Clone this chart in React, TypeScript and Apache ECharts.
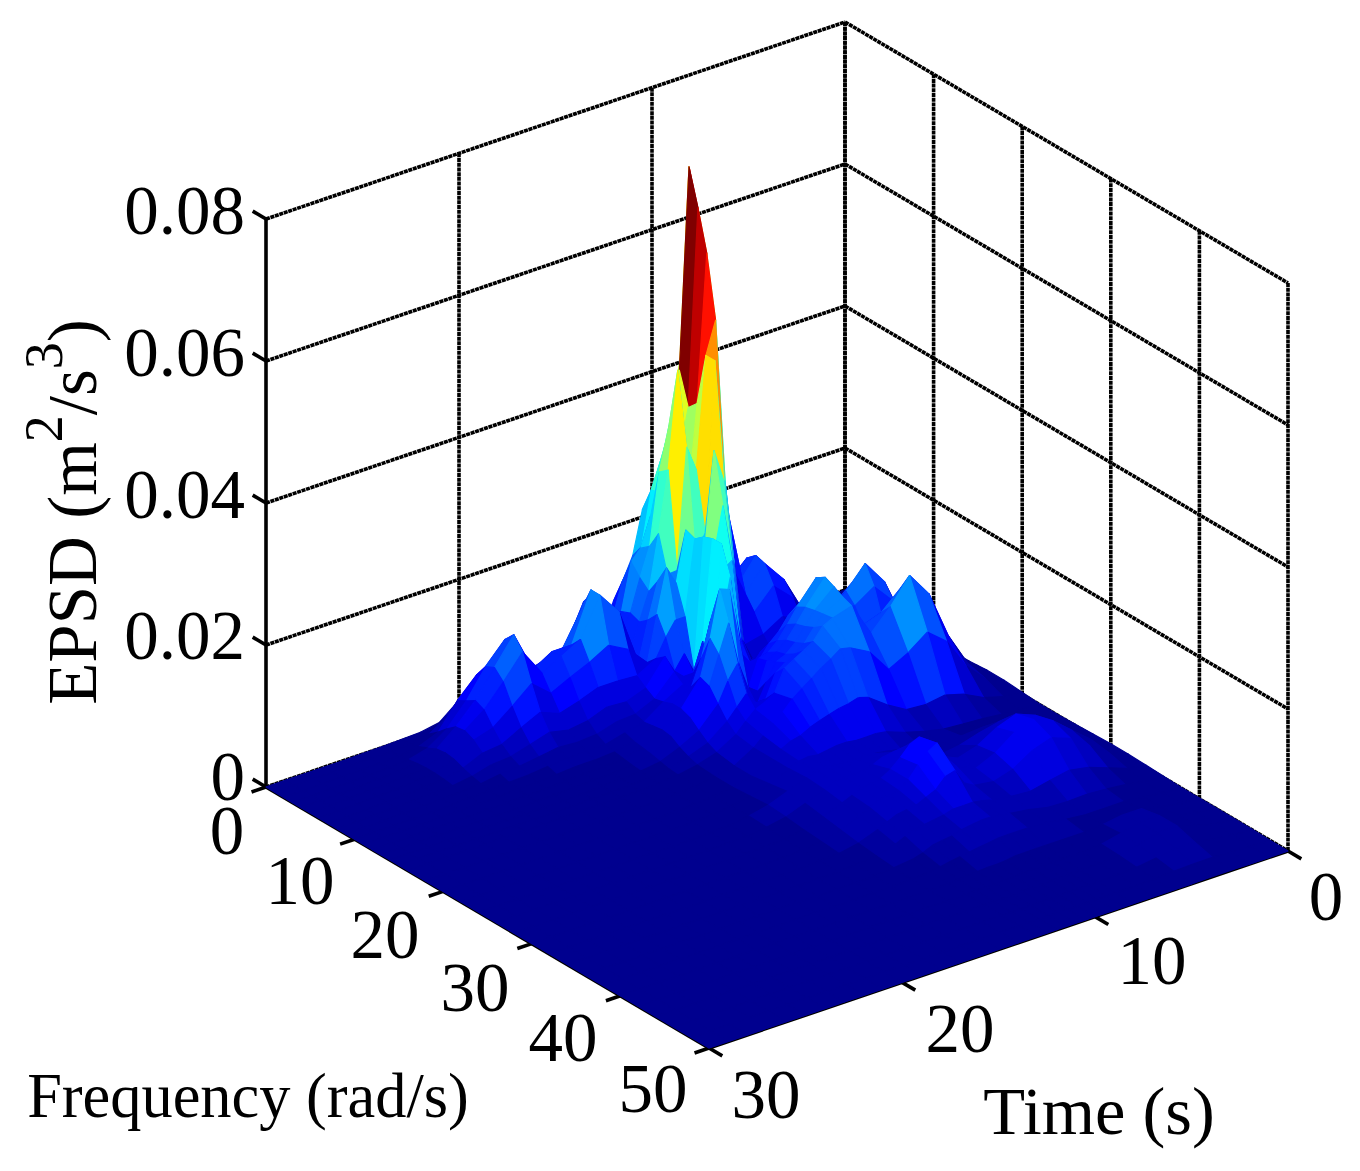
import React, { useEffect, useRef } from "react";
import * as echarts from "echarts";

const timeGrid = [0,1,2,3,4,5,6,7,8,8.5,9,9.5,10,10.5,11,11.5,12,12.5,13,14,15,16,17,18,19,20,21,22,23,24,25,26,27,28,29,30];
const freqGrid = [0,1,2,3,4,5,6,7,8,9,10,11,12,13,14,15,16,18,20,22,24,26,28,30,32,34,36,38,40,42,44,46,48,50];
// EPSD in units of 1e-4 m^2/s^3; one row per entry of timeGrid, one column per entry of freqGrid
const epsdRows = [
[0,0,0,0,0,0,0,0,1,2,3,4,4,3,3,4,5,5,3,1,1,2,3,4,4,3,2,1,1,1,1,1,0,0],
[0,0,0,0,0,1,1,2,4,7,12,16,14,10,13,20,24,17,6,2,4,9,15,19,15,8,4,3,3,4,3,2,1,0],
[0,0,1,1,1,2,3,6,12,26,45,56,48,32,38,60,72,44,14,5,10,22,36,41,34,18,9,6,7,10,10,6,2,0],
[2,3,4,5,5,5,6,11,25,55,98,120,100,66,75,118,140,88,28,8,16,35,57,64,54,28,12,9,14,19,19,11,4,1],
[18,28,36,39,37,30,20,16,32,72,128,155,130,88,98,150,175,110,36,10,19,42,68,75,64,33,14,9,14,18,18,11,4,1],
[42,65,82,92,90,72,48,30,35,62,105,125,112,88,92,125,140,90,32,12,17,36,58,66,55,28,13,9,10,12,11,7,3,0],
[60,92,115,126,122,98,62,38,42,58,78,100,122,132,122,115,112,76,34,18,16,28,42,46,38,22,14,12,8,6,5,3,1,0],
[55,72,85,90,88,70,46,30,38,62,100,140,170,178,172,165,160,110,50,26,18,24,34,34,30,24,20,16,8,4,3,2,1,0],
[300,340,350,330,225,135,40,28,34,56,88,118,138,145,148,150,152,125,70,36,22,26,46,46,34,28,24,18,8,4,3,1,0,0],
[400,560,620,510,376,265,160,58,30,48,76,100,118,126,130,136,145,128,74,38,26,36,62,62,42,32,26,18,8,4,2,1,0,0],
[320,414,694,644,587,500,282,176,72,50,68,88,100,108,112,118,128,118,70,38,32,50,82,88,64,34,28,18,8,3,2,1,0,0],
[270,327,412,367,380,455,455,294,189,84,52,70,88,96,100,108,120,110,68,38,34,50,76,80,60,34,28,18,8,3,2,1,0,0],
[233,283,330,300,240,298,217,340,270,200,95,72,84,88,94,100,112,100,64,40,36,48,62,66,46,34,26,16,6,3,1,0,0,0],
[210,245,250,350,436,335,190,200,200,190,170,90,48,50,70,90,104,90,60,40,34,42,50,50,40,30,24,14,5,2,1,0,0,0],
[150,170,220,290,300,166,230,225,235,240,240,200,120,60,42,58,74,80,55,38,34,38,42,40,34,28,20,12,5,2,1,0,0,0],
[120,155,180,190,215,165,160,120,50,100,60,130,195,100,62,58,66,66,48,36,36,38,40,38,32,26,18,10,4,1,0,0,0,0],
[95,130,165,150,138,160,186,120,80,60,90,150,200,160,110,75,60,55,45,38,38,38,38,36,30,24,16,8,3,1,0,0,0,0],
[65,85,100,105,100,110,125,100,60,60,60,100,135,120,90,60,48,42,38,36,38,36,32,30,24,18,10,5,2,1,0,0,0,0],
[60,80,90,75,60,55,62,75,85,70,60,65,85,80,62,45,34,30,30,30,32,30,26,22,18,12,6,3,1,0,0,0,0,0],
[60,120,140,140,138,135,90,60,50,42,45,50,50,45,34,24,18,14,14,18,22,20,16,12,8,5,3,1,0,0,0,0,0,0],
[50,62,75,135,168,168,105,62,40,30,26,28,30,28,20,14,10,8,8,10,12,10,7,5,3,2,0,0,0,0,0,0,0,0],
[42,40,75,88,100,115,90,62,42,28,20,16,14,12,9,6,5,4,4,5,6,5,3,2,1,1,0,0,0,0,0,0,0,0],
[30,42,56,60,100,100,78,52,32,20,13,10,8,6,5,3,2,2,2,2,2,2,1,1,0,0,0,0,0,0,0,0,0,0],
[40,58,70,80,84,86,65,44,28,18,12,8,6,4,3,2,1,1,1,1,1,1,1,0,0,0,0,0,0,0,0,0,0,0],
[48,72,94,128,142,125,88,55,34,20,12,8,5,3,2,1,1,1,0,0,0,0,0,0,0,0,0,0,0,0,0,0,0,0],
[30,50,80,99,105,92,65,42,26,16,10,6,4,2,1,1,1,1,0,0,0,0,0,0,0,0,0,0,0,0,0,0,0,0],
[8,25,53,60,68,62,44,28,18,12,7,4,2,1,0,0,0,0,0,0,0,0,0,0,0,0,0,0,0,0,0,0,0,0],
[3,8,18,30,40,42,36,25,16,10,6,4,2,1,0,0,0,0,0,0,0,0,0,0,0,0,0,0,0,0,0,0,0,0],
[2,3,7,12,18,20,18,13,9,6,4,2,1,0,0,0,0,0,0,0,0,0,0,0,0,0,0,0,0,0,0,0,0,0],
[1,1,3,5,7,8,8,7,5,4,3,2,1,0,0,0,0,0,0,0,0,0,0,0,0,0,0,0,0,0,0,0,0,0],
[1,1,2,3,5,6,6,5,4,3,2,1,0,0,0,0,0,0,0,0,0,0,0,0,0,0,0,0,0,0,0,0,0,0],
[0,1,1,2,3,4,4,3,3,2,1,1,0,0,0,0,0,0,0,0,0,0,0,0,0,0,0,0,0,0,0,0,0,0],
[0,0,1,1,2,3,3,2,2,1,1,0,0,0,0,0,0,0,0,0,0,0,0,0,0,0,0,0,0,0,0,0,0,0],
[0,0,0,1,1,2,2,1,1,0,0,0,0,0,0,0,0,0,0,0,0,0,0,0,0,0,0,0,0,0,0,0,0,0],
[0,0,0,0,1,1,1,0,0,0,0,0,0,0,0,0,0,0,0,0,0,0,0,0,0,0,0,0,0,0,0,0,0,0],
[0,0,0,0,0,0,0,0,0,0,0,0,0,0,0,0,0,0,0,0,0,0,0,0,0,0,0,0,0,0,0,0,0,0],
];

const timeTicks = [0, 10, 20, 30];
const freqTicks = [0, 10, 20, 30, 40, 50];
const epsdTicks = [0, 0.02, 0.04, 0.06, 0.08];
const epsdTickLabels = ["0", "0.02", "0.04", "0.06", "0.08"];
const timeTitle = "Time (s)";
const freqTitle = "Frequency (rad/s)";

const FONT = '"Liberation Serif"';
const TMAX = 30, FMAX = 50, ZMAX = 0.08;

// oblique view of the box: the (t=0, f=0, z=0) corner and the screen vector of each axis
const project = (t: number, f: number, z: number): number[] => [
  845 - (579 * t) / 30 + (443 * f) / 50,
  590 + (197 * t) / 30 + (261 * f) / 50 - (568 * z) / 0.08,
];

const peakValue = Math.max(...epsdRows.map((r) => Math.max(...r)));
const jet = (value: number): string => {
  const idx = Math.min(63, Math.floor((value / peakValue) * 64));
  const v = (idx + 1) / 64;
  const c = (x: number) => Math.round(255 * Math.max(0, Math.min(1, x)));
  return `rgb(${c(Math.min(4 * v - 1.5, 4.5 - 4 * v))},${c(Math.min(4 * v - 0.5, 3.5 - 4 * v))},${c(Math.min(4 * v + 0.5, 2.5 - 4 * v))})`;
};

type Seg = [number, number, number, number, number, number, number];
const wallSegs: Seg[] = [];
// style code in the last slot: 0 dotted grid, 1 solid axis
for (const z of epsdTicks) {
  wallSegs.push([TMAX, 0, z, 0, 0, z, 0]);
  wallSegs.push([0, 0, z, 0, FMAX, z, 0]);
}
for (const t of timeTicks) wallSegs.push([t, 0, 0, t, 0, ZMAX, t === TMAX ? 1 : 0]);
for (const f of freqTicks) wallSegs.push([0, f, 0, 0, f, ZMAX, 0]);
wallSegs.push([TMAX, 0, 0, TMAX, FMAX, 0, 1]);
wallSegs.push([TMAX, FMAX, 0, 0, FMAX, 0, 1]);
for (const z of epsdTicks) wallSegs.push([TMAX, 0, z, TMAX, -1.5, z, 1]);
for (const f of freqTicks) wallSegs.push([TMAX, f, 0, TMAX + 0.75, f, 0, 1]);
for (const t of timeTicks) wallSegs.push([t, FMAX, 0, t, FMAX + 1.5, 0, 1]);

const faces: number[][] = [];
for (let i = 0; i < timeGrid.length - 1; i++)
  for (let j = 0; j < freqGrid.length - 1; j++) faces.push([i, j]);

const epsdPos = [[245, 777], [245, 636], [245, 495], [245, 353], [245, 211]];
const freqPos = [[227, 831], [300, 881], [385, 935], [475, 988], [563, 1038], [653, 1089]];
const timePos = [[1326, 897], [1152, 961], [960, 1029], [766, 1095]];

const label = (text: string, x: number, y: number, align: string, size = 69) => ({
  type: "text",
  x,
  y,
  silent: true,
  style: { text, fontSize: size, fontFamily: FONT, fill: "#000", align, verticalAlign: "middle" },
});

export default function App() {
  const ref = useRef<HTMLDivElement>(null);
  useEffect(() => {
    document.body.style.margin = "0";
    const chart = echarts.init(ref.current!, undefined, { renderer: "svg" });
    chart.setOption({
      animation: false,
      backgroundColor: "#fff",
      grid: { left: 0, top: 0, width: 1360, height: 1171 },
      xAxis: { type: "value", min: 0, max: 1360, show: false },
      yAxis: { type: "value", min: 0, max: 1171, inverse: true, show: false },
      series: [
        {
          type: "custom",
          z: 1,
          silent: true,
          clip: false,
          data: wallSegs,
          encode: { x: 0, y: 1 },
          renderItem: (_p: any, api: any) => {
            const a = api.coord(project(api.value(0), api.value(1), api.value(2)));
            const b = api.coord(project(api.value(3), api.value(4), api.value(5)));
            const solid = api.value(6) === 1;
            return {
              type: "line",
              shape: { x1: a[0], y1: a[1], x2: b[0], y2: b[1] },
              style: { stroke: "#000", lineWidth: 3.6, lineDash: solid ? null : [4, 0.7] },
            };
          },
        },
        {
          type: "custom",
          z: 2,
          silent: true,
          clip: false,
          data: [[0]],
          encode: { x: 0 },
          renderItem: (_p: any, api: any) => {
            const col = jet(0);
            const c = (t: number, f: number) => api.coord(project(t, f, 0));
            return {
              type: "polygon",
              shape: { points: [c(0, 0), c(TMAX, 0), c(TMAX, FMAX), c(0, FMAX)] },
              style: { fill: col, stroke: col, lineWidth: 1 },
            };
          },
        },
        {
          type: "custom",
          z: 3,
          silent: true,
          clip: false,
          data: faces,
          encode: { x: 0, y: 1 },
          renderItem: (_p: any, api: any) => {
            const i = api.value(0), j = api.value(1);
            const corner = (a: number, b: number) =>
              api.coord(project(timeGrid[a], freqGrid[b], epsdRows[a][b] * 1e-4));
            const col = jet(epsdRows[i][j]);
            return {
              type: "polygon",
              shape: { points: [corner(i, j), corner(i + 1, j), corner(i + 1, j + 1), corner(i, j + 1)] },
              style: { fill: col, stroke: col, lineWidth: 1.2, lineJoin: "round" },
            };
          },
        },
      ],
      graphic: [
        ...epsdTickLabels.map((s, k) => label(s, epsdPos[k][0], epsdPos[k][1], "right")),
        ...freqTicks.map((v, k) => label(String(v), freqPos[k][0], freqPos[k][1], "center")),
        ...timeTicks.map((v, k) => label(String(v), timePos[k][0], timePos[k][1], "center")),
        label(freqTitle, 248, 1095, "center", 62.4),
        label(timeTitle, 1099, 1111, "center", 68.5),
        {
          type: "text",
          x: 62,
          y: 512,
          rotation: Math.PI / 2,
          silent: true,
          style: {
            text: "{a|EPSD (m}{b|2}{a|/s}{b|3}{a|)}",
            align: "center",
            verticalAlign: "middle",
            fill: "#000",
            rich: {
              a: { fontSize: 69, fontFamily: FONT, fill: "#000", lineHeight: 90, verticalAlign: "bottom" },
              b: { fontSize: 54, fontFamily: FONT, fill: "#000", lineHeight: 90, verticalAlign: "top" },
            },
          },
        },
      ],
    });
    return () => chart.dispose();
  }, []);
  return <div ref={ref} style={{ width: 1360, height: 1171 }} />;
}
